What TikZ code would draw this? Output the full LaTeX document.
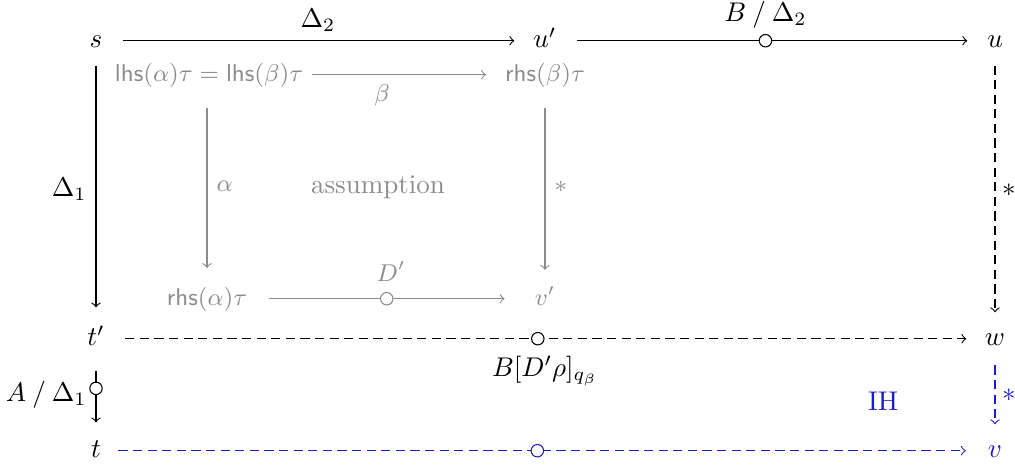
\documentclass[tikz,border=0pt]{standalone}
\usepackage{amsmath}
\usepackage{tikz}
\usetikzlibrary{arrows.meta,calc}
\definecolor{Ink}{HTML}{000000}
\definecolor{Faded}{HTML}{8C8C8C}
\definecolor{IHBlue}{HTML}{1C1CC4}
\newcommand{\lhsop}[1]{\ensuremath{\mathsf{lhs}(#1)}}
\newcommand{\rhsop}[1]{\ensuremath{\mathsf{rhs}(#1)}}

\begin{document}
\begin{tikzpicture}[x=0.013cm,y=-0.013cm,>=to,
    obj/.style={anchor=base,inner sep=0pt,text height=1.5ex,text depth=.25ex},
    faint/.style={obj,text=Faded,font=\small},
    ringmark/.style={circle,draw,solid,fill=white,inner sep=0pt,minimum size=4.6pt},
    reduct/.style={->,Ink},
    redash/.style={->,dash pattern=on 3.4pt off 2pt}]
    \useasboundingbox (0,0) rectangle (1015,466);

    % outer square
    \node[obj] (s) at (96,48) {$s$};
    \node[obj] (up) at (545,48) {$u'$};
    \node[obj] (u) at (995,48) {$u$};
    \node[obj] (tp) at (96,346) {$t'$};
    \node[obj] (w) at (995,346) {$w$};
    \node[obj] (t) at (96,458) {$t$};
    \node[obj,text=IHBlue] (v) at (995,458) {$v$};

    % the assumed critical peak
    \node[faint] (lhs) at (209,82) {$\lhsop{\alpha}\tau = \lhsop{\beta}\tau$};
    \node[faint] (rhsb) at (545,82) {$\rhsop{\beta}\tau$};
    \node[faint] (rhsa) at (207,306) {$\rhsop{\alpha}\tau$};
    \node[faint] (vp) at (545,306) {$v'$};
    \node[text=Faded] (assume) at (378,187) {assumption};
    \node[text=IHBlue] (ih) at (883,401) {IH};

    \draw[reduct,shorten <=7.4pt,shorten >=6.9pt] (s) -- node[above] {$\Delta_2$} (up);
    \draw[reduct,shorten <=7.4pt,shorten >=7.2pt] (up) --
      node[pos=0.485,ringmark] {} node[pos=0.485,above=1pt] {$B \mathbin{/} \Delta_2$} (u);
    \draw[reduct,shorten <=5.2pt,shorten >=7.6pt] (s) -- node[left] {$\Delta_1$} (tp);
    \draw[reduct,shorten <=7.8pt,shorten >=6.5pt] (tp) --
      node[pos=0.43,ringmark] {} node[left] {$A \mathbin{/} \Delta_1$} (t);
    \draw[redash,shorten <=5.2pt,shorten >=5.8pt] (u) -- node[right,inner sep=2.4pt] {$*$} (w);
    \draw[redash,shorten <=7.4pt,shorten >=6.7pt] (tp) --
      node[pos=0.492,ringmark] {} node[below=3pt] {$B[D'\rho]_{q_\beta}$} (w);
    \draw[redash,IHBlue,shorten <=5.9pt,shorten >=5.8pt] (w) -- node[right,inner sep=2.4pt] {$*$} (v);
    \draw[redash,IHBlue,shorten <=6.3pt,shorten >=8pt] (t) --
      node[pos=0.492,ringmark] {} (v);

    \draw[->,Faded,shorten <=3pt,shorten >=6.9pt] (lhs) -- node[pos=0.39,below,font=\small] {$\beta$} (rhsb);
    \draw[->,Faded,shorten <=8.5pt,shorten >=7.4pt] (lhs.south -| rhsa) -- node[right,font=\small] {$\alpha$} (rhsa);
    \draw[->,Faded,shorten <=8.5pt,shorten >=6.7pt] (rhsb) -- node[right,font=\small] {$*$} (vp);
    \draw[->,Faded,shorten <=8pt,shorten >=11pt] (rhsa) --
      node[pos=0.485,ringmark] {} node[above=3pt,font=\small] {$D'$} (vp);
  \end{tikzpicture}
\end{document}
